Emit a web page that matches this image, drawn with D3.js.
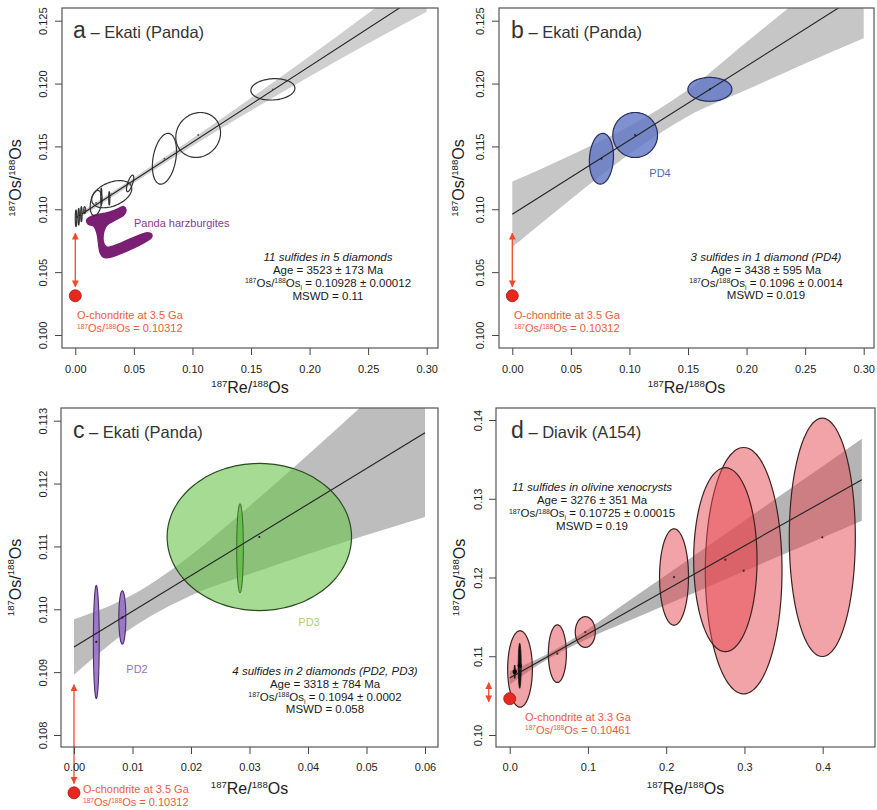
<!DOCTYPE html>
<html><head><meta charset="utf-8">
<script src="https://cdn.jsdelivr.net/npm/d3@7"></script>
<style>
body{margin:0;background:#fff}
svg{display:block}
text{font-family:"Liberation Sans",Arial,Helvetica,sans-serif}
</style>
</head><body>
<svg id="chart" width="877" height="810"></svg>
<script>
// ---------------- DATA ----------------
// Panel a — Ekati (Panda), 11 sulfides in 5 diamonds
const aEllX   = [0.1687, 0.1049, 0.0761, 0.0468, 0.0311, 0.0177, 0.0222, 0.0290, 0.0006, 0.0029, 0.0052, 0.0080];
const aEllY   = [0.11954, 0.11591, 0.11402, 0.11206, 0.11120, 0.11050, 0.11100, 0.11087, 0.10928, 0.10941, 0.10961, 0.10994];
const aEllSX  = [0.0188, 0.0191, 0.0103, 0.0031, 0.0171, 0.0050, 0.0005, 0.0005, 0.0006, 0.0006, 0.0006, 0.0008];
const aEllSY  = [0.00085, 0.00179, 0.00202, 0.00066, 0.00108, 0.00100, 0.00068, 0.00053, 0.00066, 0.00066, 0.00060, 0.00027];
const aEllRho = [0.1, 0.1, 0.3, 0.7, 0.4, 0.3, 0, 0, 0, 0, 0, 0];
const aIntercept = 0.10928, aSlope = 0.06045;
const aBandX  = [0, 0.05, 0.10, 0.15, 0.20, 0.25, 0.30];
const aBandLo = [0.10908, 0.11210, 0.11503, 0.11785, 0.12057, 0.12319, 0.12572];
const aBandHi = [0.10948, 0.11250, 0.11563, 0.11885, 0.12217, 0.12559, 0.12912];
const harzX = [0.0100, 0.0171, 0.0256, 0.0342, 0.0414, 0.0433, 0.0414, 0.0342, 0.0271, 0.0243, 0.0243, 0.0271, 0.0613, 0.0650, 0.0650, 0.0314, 0.0243, 0.0214, 0.0185, 0.0157, 0.0109];
const harzY = [0.10920, 0.10955, 0.10968, 0.10994, 0.11021, 0.10994, 0.10955, 0.10915, 0.10875, 0.10822, 0.10729, 0.10698, 0.10814, 0.10803, 0.10777, 0.10623, 0.10618, 0.10650, 0.10809, 0.10867, 0.10883];
const aChondrite = 0.10312;

// Panel b — PD4, 3 sulfides
const bEllX   = [0.1687, 0.1049, 0.0761];
const bEllY   = [0.11954, 0.11591, 0.11402];
const bEllSX  = [0.0188, 0.0191, 0.0103];
const bEllSY  = [0.00095, 0.00179, 0.00202];
const bEllRho = [0, 0, 0.1];
const bIntercept = 0.1096, bSlope = 0.05895;
const bBandX  = [0, 0.05, 0.10, 0.15, 0.20, 0.25, 0.30];
const bBandLo = [0.1070, 0.1108, 0.1144, 0.1174, 0.1195, 0.1216, 0.1236];
const bBandHi = [0.1122, 0.1143, 0.1166, 0.1195, 0.1233, 0.1271, 0.1310];
const bChondrite = 0.10312;

// Panel c — PD2 (purple), PD3 (green)
const cPD2X  = [0.00381, 0.00826];
const cPD2Y  = [0.10948, 0.10987];
const cPD2SX = [0.0005, 0.0006];
const cPD2SY = [0.00090, 0.000424];
const cPD3X  = [0.03168, 0.02838];
const cPD3Y  = [0.11115, 0.11097];
const cPD3SX = [0.01576, 0.00057];
const cPD3SY = [0.00117, 0.00071];
const cIntercept = 0.1094, cSlope = 0.0568;
const cBandX  = [0, 0.01, 0.02, 0.03, 0.04, 0.05, 0.06];
const cBandLo = [0.10896, 0.10971, 0.11022, 0.11056, 0.11088, 0.11118, 0.11147];
const cBandHi = [0.10984, 0.11023, 0.11086, 0.11164, 0.11246, 0.11330, 0.11415];
const cChondrite = 0.10312;

// Panel d — Diavik (A154), 11 sulfides in olivine xenocrysts
const dEllX  = [0.3995, 0.299, 0.2756, 0.210, 0.0966, 0.0609, 0.0132];
const dEllY  = [0.1251, 0.12087, 0.12226, 0.12006, 0.11308, 0.11033, 0.10838];
const dEllSX = [0.0422, 0.049, 0.0405, 0.0185, 0.0128, 0.0115, 0.0158];
const dEllSY = [0.01513, 0.01564, 0.01168, 0.00612, 0.00195, 0.00366, 0.00485];
const dBarX  = [0.0128, 0.0064];
const dBarY  = [0.10879, 0.10804];
const dBarSX = [0.0019, 0.0008];
const dBarSY = [0.00286, 0.00085];
const dIntercept = 0.10725, dSlope = 0.0559;
const dBandX  = [0, 0.05, 0.10, 0.15, 0.20, 0.25, 0.30, 0.35, 0.40, 0.45];
const dBandLo = [0.10640, 0.10972, 0.11223, 0.11440, 0.11655, 0.11868, 0.12082, 0.12295, 0.12508, 0.12721];
const dBandHi = [0.10810, 0.11038, 0.11345, 0.11688, 0.12031, 0.12378, 0.12722, 0.13069, 0.13414, 0.13761];
const dChondrite = 0.10461;

// Ticks
const abXTicks = [0, 0.05, 0.10, 0.15, 0.20, 0.25, 0.30];
const abXTickLabels = ["0.00","0.05","0.10","0.15","0.20","0.25","0.30"];
const abYTicks = [0.100, 0.105, 0.110, 0.115, 0.120, 0.125];
const abYTickLabels = ["0.100","0.105","0.110","0.115","0.120","0.125"];
const cXTicks = [0, 0.01, 0.02, 0.03, 0.04, 0.05, 0.06];
const cXTickLabels = ["0.00","0.01","0.02","0.03","0.04","0.05","0.06"];
const cYTicks = [0.108, 0.109, 0.110, 0.111, 0.112, 0.113];
const cYTickLabels = ["0.108","0.109","0.110","0.111","0.112","0.113"];
const dXTicks = [0, 0.1, 0.2, 0.3, 0.4];
const dXTickLabels = ["0.0","0.1","0.2","0.3","0.4"];
const dYTicks = [0.10, 0.11, 0.12, 0.13, 0.14];
const dYTickLabels = ["0.10","0.11","0.12","0.13","0.14"];

// ---------------- DRAWING ----------------
const svg = d3.select('#chart');
const defs = svg.append('defs');
['start','end'].forEach(k => {
  defs.append('marker').attr('id','arr-'+k)
    .attr('viewBox','0 0 10 10').attr('refX', k==='end'?9:1).attr('refY',5)
    .attr('markerWidth',7).attr('markerHeight',7).attr('markerUnits','userSpaceOnUse')
    .attr('orient','auto')
    .append('path').attr('d', k==='end' ? 'M0,0 L10,5 L0,10 Z' : 'M10,0 L0,5 L10,10 Z')
    .attr('fill','#ee4a2e');
});

function rich(sel, parts, size, supShift) {
  const up = supShift || 0.38;
  let cur = 0;
  parts.forEach(p => {
    const [s, t] = Array.isArray(p) ? p : [p, null];
    const target = t === 'sup' ? -up*size : (t === 'sub' ? 0.28*size : 0);
    sel.append('tspan').attr('dy', (target-cur).toFixed(2))
      .attr('font-size', t ? (0.6*size).toFixed(1) : size).text(s);
    cur = target;
  });
}

function ellipsePath(x, y, cx, cy, sx, sy, rho) {
  const pts = d3.range(0, 96).map(i => {
    const t = i/96*2*Math.PI;
    return [x(cx + sx*Math.cos(t)), y(cy + sy*(rho*Math.cos(t) + Math.sqrt(1-rho*rho)*Math.sin(t)))];
  });
  return d3.line().curve(d3.curveCardinalClosed)(pts);
}

function panel(cfg) {
  const x = d3.scaleLinear().domain(cfg.xd).range(cfg.xr);
  const y = d3.scaleLinear().domain(cfg.yd).range(cfg.yr);
  const [L,T,R,B] = cfg.box;
  const g = svg.append('g');
  const clipId = 'clip-' + cfg.id;
  defs.append('clipPath').attr('id', clipId).append('rect')
    .attr('x', L).attr('y', T).attr('width', R-L).attr('height', B-T);
  const plot = g.append('g').attr('clip-path', `url(#${clipId})`);

  // error band
  plot.append('path').datum(d3.range(cfg.band.x.length))
    .attr('d', d3.area().curve(d3.curveMonotoneX)
      .x(i => x(cfg.band.x[i])).y0(i => y(cfg.band.lo[i])).y1(i => y(cfg.band.hi[i])))
    .attr('fill', cfg.bandColor);

  if (cfg.before) cfg.before(plot, x, y);

  // ellipses
  cfg.groups.forEach(gr => {
    gr.x.forEach((cx, i) => {
      plot.append('path')
        .attr('d', ellipsePath(x, y, cx, gr.y[i], gr.sx[i], gr.sy[i], gr.rho ? gr.rho[i] : 0))
        .attr('fill', gr.fill).attr('stroke', gr.stroke).attr('stroke-width', gr.sw || 1.2);
    });
  });

  // isochron line
  plot.append('line')
    .attr('x1', x(0)).attr('y1', y(cfg.intercept))
    .attr('x2', x(cfg.lineMax)).attr('y2', y(cfg.intercept + cfg.slope*cfg.lineMax))
    .attr('stroke', '#222').attr('stroke-width', 1.1);

  // centre dots
  cfg.groups.forEach(gr => {
    if (gr.noDot) return;
    gr.x.forEach((cx, i) => {
      plot.append('circle').attr('cx', x(cx)).attr('cy', y(gr.y[i])).attr('r', gr.dotR || 1.1).attr('fill', gr.dot || '#222');
    });
  });

  if (cfg.after) cfg.after(g, plot, x, y);

  // axes
  const xa = g.append('g').attr('transform', `translate(0,${B})`)
    .call(d3.axisBottom(x).tickValues(cfg.xTicks).tickSize(7)
      .tickFormat((d,i) => cfg.xTickLabels[i]));
  xa.select('.domain').remove();
  xa.selectAll('line').attr('stroke', '#444');
  xa.selectAll('text').attr('y', cfg.xLabOff).attr('dy', 0).attr('font-size', 11).attr('fill', '#222');

  const ya = g.append('g').attr('transform', `translate(${L},0)`)
    .call(d3.axisLeft(y).tickValues(cfg.yTicks).tickSize(7)
      .tickFormat((d,i) => cfg.yTickLabels[i]));
  ya.select('.domain').remove();
  ya.selectAll('line').attr('stroke', '#444');
  ya.selectAll('text').attr('transform', 'rotate(-90)').attr('x', 0).attr('y', -cfg.yLabOff)
    .attr('dy', 0).attr('text-anchor', 'middle').attr('font-size', 11).attr('fill', '#222');

  // box
  g.append('rect').attr('x', L).attr('y', T).attr('width', R-L).attr('height', B-T)
    .attr('fill', 'none').attr('stroke', '#555').attr('stroke-width', 1.2);

  // axis titles
  const xt = g.append('text').attr('x', (L+R)/2).attr('y', cfg.xTitleY)
    .attr('text-anchor', 'middle').attr('fill', '#222');
  rich(xt, [['187','sup'], 'Re/', ['188','sup'], 'Os'], 16);
  const yt = g.append('text').attr('transform', `translate(${cfg.yTitleX},${(T+B)/2}) rotate(-90)`)
    .attr('text-anchor', 'middle').attr('fill', '#222');
  rich(yt, [['187','sup'], 'Os/', ['188','sup'], 'Os'], 16);

  // panel title
  const tt = g.append('text').attr('x', cfg.titleX).attr('y', T + 29.5).attr('fill', '#333');
  tt.append('tspan').attr('font-size', 23).text(cfg.letter);
  tt.append('tspan').attr('font-size', 16.5).text(' \u2013 ' + cfg.title);

  // statistics block
  cfg.stats.forEach((parts, i) => {
    const t = g.append('text').attr('x', cfg.statX).attr('y', cfg.statY + i*12.9)
      .attr('text-anchor', 'middle').attr('fill', '#1a1a1a')
      .attr('font-style', i === 0 ? 'italic' : 'normal');
    rich(t, parts, 11.5, 0.3);
  });
  return {x, y, g};
}

function chondrite(g, x, y, ax, a0, a1, dotX, dotY, tx, ty, label, value) {
  g.append('line').attr('x1', x(ax)).attr('x2', x(ax)).attr('y1', y(a0)).attr('y2', y(a1))
    .attr('stroke', '#ee4a2e').attr('stroke-width', 1.3)
    .attr('marker-start', 'url(#arr-start)').attr('marker-end', 'url(#arr-end)');
  g.append('circle').attr('cx', x(dotX)).attr('cy', y(dotY)).attr('r', 6)
    .attr('fill', '#e8281e').attr('stroke', '#9a1a10').attr('stroke-width', 0.8);
  g.append('text').attr('x', tx).attr('y', ty).attr('font-size', 11).attr('fill', '#ef5a3c').text(label);
  const t2 = g.append('text').attr('x', tx).attr('y', ty + 13.2).attr('fill', '#ef5a3c');
  rich(t2, [['187','sup'], 'Os/', ['188','sup'], 'Os = ' + value], 11, 0.3);
}

const greyBand = '#c6c6c6';

// ---- panel a ----
panel({
  id: 'a', box: [62, 8, 438, 348], xd: [0, 0.30], xr: [75.3, 426.7], yd: [0.100, 0.125], yr: [335, 20.7],
  band: {x: aBandX, lo: aBandLo, hi: aBandHi}, bandColor: '#cfcfcf',
  intercept: aIntercept, slope: aSlope, lineMax: 0.30,
  groups: [{x: aEllX, y: aEllY, sx: aEllSX, sy: aEllSY, rho: aEllRho, fill: 'none', stroke: '#333', sw: 1.2, dotR: 0.9, dot: '#555'}],
  before: (plot, x, y) => {
    plot.append('path').datum(d3.range(harzX.length))
      .attr('d', d3.line().curve(d3.curveCatmullRomClosed.alpha(0.5)).x(i => x(harzX[i])).y(i => y(harzY[i])))
      .attr('fill', '#7a1f74').attr('stroke', '#7a1f74').attr('stroke-width', 1.5);
  },
  after: (g, plot, x, y) => {
    g.append('text').attr('x', 134).attr('y', 227).attr('font-size', 11).attr('fill', '#8c3a8a').text('Panda harzburgites');
    chondrite(g, x, y, 0, 0.10809, 0.10384, 0, aChondrite, 77, 319, 'O-chondrite at 3.5 Ga', '0.10312');
  },
  xTicks: abXTicks, xTickLabels: abXTickLabels, yTicks: abYTicks, yTickLabels: abYTickLabels,
  xLabOff: 24.5, yLabOff: 15.5, xTitleY: 393, yTitleX: 21, titleX: 73, letter: 'a', title: 'Ekati (Panda)',
  statX: 328, statY: 261,
  stats: [
    ['11 sulfides in 5 diamonds'],
    ['Age = 3523 \u00b1 173 Ma'],
    [['187','sup'], 'Os/', ['188','sup'], 'Os', ['i','sub'], ' = 0.10928 \u00b1 0.00012'],
    ['MSWD = 0.11']
  ]
});

// ---- panel b ----
panel({
  id: 'b', box: [499, 8, 874, 348], xd: [0, 0.30], xr: [512.3, 863.7], yd: [0.100, 0.125], yr: [335, 20.7],
  band: {x: bBandX, lo: bBandLo, hi: bBandHi}, bandColor: greyBand,
  intercept: bIntercept, slope: bSlope, lineMax: 0.30,
  groups: [{x: bEllX, y: bEllY, sx: bEllSX, sy: bEllSY, rho: bEllRho, fill: 'rgba(95,118,198,0.8)', stroke: '#27305e', sw: 1.2}],
  after: (g, plot, x, y) => {
    g.append('text').attr('x', 660).attr('y', 177).attr('text-anchor', 'middle').attr('font-size', 11).attr('fill', '#5468bb').text('PD4');
    chondrite(g, x, y, 0, 0.10809, 0.10384, 0, bChondrite, 514, 319, 'O-chondrite at 3.5 Ga', '0.10312');
  },
  xTicks: abXTicks, xTickLabels: abXTickLabels, yTicks: abYTicks, yTickLabels: abYTickLabels,
  xLabOff: 24.5, yLabOff: 15.3, xTitleY: 393, yTitleX: 464, titleX: 511, letter: 'b', title: 'Ekati (Panda)',
  statX: 766, statY: 260.7,
  stats: [
    ['3 sulfides in 1 diamond (PD4)'],
    ['Age = 3438 \u00b1 595 Ma'],
    [['187','sup'], 'Os/', ['188','sup'], 'Os', ['i','sub'], ' = 0.1096 \u00b1 0.0014'],
    ['MSWD = 0.019']
  ]
});

// ---- panel c ----
panel({
  id: 'c', box: [61, 408, 438, 747], xd: [0, 0.06], xr: [74, 425], yd: [0.108, 0.113], yr: [735, 420.7],
  band: {x: cBandX, lo: cBandLo, hi: cBandHi}, bandColor: '#bdbdbd',
  intercept: cIntercept, slope: cSlope, lineMax: 0.06,
  groups: [
    {x: cPD3X.slice(0,1), y: cPD3Y.slice(0,1), sx: cPD3SX.slice(0,1), sy: cPD3SY.slice(0,1), fill: 'rgba(105,195,75,0.6)', stroke: '#2c4a22', sw: 1.2},
    {x: cPD3X.slice(1), y: cPD3Y.slice(1), sx: cPD3SX.slice(1), sy: cPD3SY.slice(1), fill: 'rgba(95,185,65,0.75)', stroke: '#356a2a', sw: 1, noDot: true},
    {x: cPD2X, y: cPD2Y, sx: cPD2SX, sy: cPD2SY, fill: 'rgba(150,112,195,0.9)', stroke: '#4a2d6c', sw: 1.1}
  ],
  after: (g, plot, x, y) => {
    g.append('text').attr('x', 137).attr('y', 673).attr('text-anchor', 'middle').attr('font-size', 11).attr('fill', '#9a6fc4').text('PD2');
    g.append('text').attr('x', 309).attr('y', 626).attr('text-anchor', 'middle').attr('font-size', 11).attr('fill', '#a8d470').text('PD3');
    chondrite(g, x, y, 0, 0.10880, 0.10723, 0, 0.10708, 83, 793, 'O-chondrite at 3.5 Ga', '0.10312');
  },
  xTicks: cXTicks, xTickLabels: cXTickLabels, yTicks: cYTicks, yTickLabels: cYTickLabels,
  xLabOff: 24, yLabOff: 14.5, xTitleY: 794, yTitleX: 20.5, titleX: 73, letter: 'c', title: 'Ekati (Panda)',
  statX: 325, statY: 674.7,
  stats: [
    ['4 sulfides in 2 diamonds (PD2, PD3)'],
    ['Age = 3318 \u00b1 784 Ma'],
    [['187','sup'], 'Os/', ['188','sup'], 'Os', ['i','sub'], ' = 0.1094 \u00b1 0.0002'],
    ['MSWD = 0.058']
  ]
});

// ---- panel d ----
panel({
  id: 'd', box: [496, 408, 875, 747], xd: [0, 0.4], xr: [509.7, 822.7], yd: [0.10, 0.14], yr: [735, 420],
  band: {x: dBandX, lo: dBandLo, hi: dBandHi}, bandColor: '#b4b4b4',
  intercept: dIntercept, slope: dSlope, lineMax: 0.45,
  groups: [
    {x: dEllX, y: dEllY, sx: dEllSX, sy: dEllSY, fill: 'rgba(230,72,80,0.5)', stroke: '#3b2323', sw: 1.2, dot: '#5a1a1a'},
    {x: dBarX, y: dBarY, sx: dBarSX, sy: dBarSY, fill: '#111', stroke: '#111', sw: 0.8, dotR: 2.2, dot: '#000'}
  ],
  after: (g, plot, x, y) => {
    chondrite(g, x, y, -0.0268, 0.10664, 0.10423, 0, dChondrite, 525, 720.5, 'O-chondrite at 3.3 Ga', '0.10461');
  },
  xTicks: dXTicks, xTickLabels: dXTickLabels, yTicks: dYTicks, yTickLabels: dYTickLabels,
  xLabOff: 24, yLabOff: 14, xTitleY: 794, yTitleX: 465, titleX: 511, letter: 'd', title: 'Diavik (A154)',
  statX: 592, statY: 491.3,
  stats: [
    ['11 sulfides in olivine xenocrysts'],
    ['Age = 3276 \u00b1 351 Ma'],
    [['187','sup'], 'Os/', ['188','sup'], 'Os', ['i','sub'], ' = 0.10725 \u00b1 0.00015'],
    ['MSWD = 0.19']
  ]
});
</script>
</body></html>
